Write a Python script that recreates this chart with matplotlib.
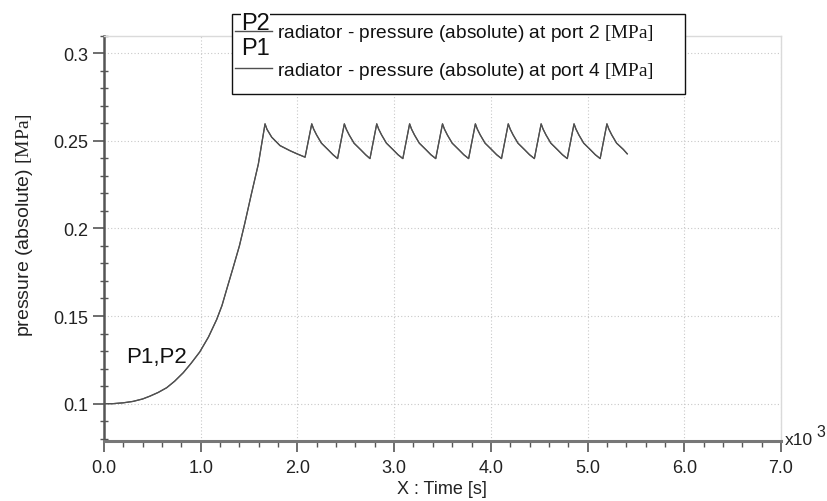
import matplotlib.pyplot as plt
from matplotlib.ticker import MultipleLocator, FuncFormatter
from matplotlib.patches import Rectangle
from matplotlib.lines import Line2D

plt.rcParams['font.family'] = ['Liberation Sans', 'DejaVu Sans']
plt.rcParams['mathtext.fontset'] = 'custom'
plt.rcParams['mathtext.rm'] = 'Liberation Serif'

# time [s]
time_s = [0, 90, 200, 300, 400, 475, 560, 648, 730, 820, 900, 990, 1080, 1165, 1220,
          1268, 1334, 1400, 1455, 1524, 1596, 1665,
          1685, 1734, 1820, 1923, 2000, 2079,
          2148, 2168, 2198, 2248, 2318, 2368, 2415,
          2485, 2505, 2535, 2585, 2655, 2705, 2750,
          2820, 2840, 2870, 2920, 2990, 3040, 3090,
          3160, 3180, 3210, 3260, 3330, 3380, 3430,
          3500, 3520, 3550, 3600, 3670, 3720, 3770,
          3840, 3860, 3890, 3940, 4010, 4060, 4110,
          4180, 4200, 4230, 4280, 4350, 4400, 4450,
          4520, 4540, 4570, 4620, 4690, 4740, 4790,
          4860, 4880, 4910, 4960, 5030, 5080, 5130,
          5200, 5220, 5250, 5300, 5370, 5410]

# radiator pressure at port 4 (P1) [MPa]
p1_mpa = [0.1000, 0.1000, 0.1005, 0.1013, 0.1027, 0.1043, 0.1064, 0.1091, 0.1128, 0.1177,
          0.1230, 0.1295, 0.1380, 0.1480, 0.1560,
          0.1651, 0.1774, 0.1900, 0.2027, 0.2196, 0.2367, 0.2596,
          0.2565, 0.2520, 0.2472, 0.2443, 0.2424, 0.2406,
          0.2596, 0.2566, 0.2533, 0.2486, 0.2448, 0.2420, 0.2398,
          0.2596, 0.2566, 0.2533, 0.2486, 0.2448, 0.2420, 0.2398,
          0.2596, 0.2566, 0.2533, 0.2486, 0.2448, 0.2420, 0.2398,
          0.2596, 0.2566, 0.2533, 0.2486, 0.2448, 0.2420, 0.2398,
          0.2596, 0.2566, 0.2533, 0.2486, 0.2448, 0.2420, 0.2398,
          0.2596, 0.2566, 0.2533, 0.2486, 0.2448, 0.2420, 0.2398,
          0.2596, 0.2566, 0.2533, 0.2486, 0.2448, 0.2420, 0.2398,
          0.2596, 0.2566, 0.2533, 0.2486, 0.2448, 0.2420, 0.2398,
          0.2596, 0.2566, 0.2533, 0.2486, 0.2448, 0.2420, 0.2398,
          0.2596, 0.2566, 0.2533, 0.2486, 0.2450, 0.2425]

# radiator pressure at port 2 (P2) [MPa] - same curve, lies on top of P1
p2_mpa = list(p1_mpa)

legend_names = ['P2', 'P1']
legend_labels = [r'radiator - pressure (absolute) at port 2 $\mathrm{[MPa]}$',
                 r'radiator - pressure (absolute) at port 4 $\mathrm{[MPa]}$']

W, H = 827, 502


def fx(px):
    return px / W


def fy(py):
    return 1 - py / H


fig = plt.figure(figsize=(W / 100, H / 100), dpi=100)
ax = fig.add_axes([fx(104), fy(441.5), (781 - 104) / W, (441.5 - 36.5) / H])

line_col = '#505050'
ax.plot(time_s, p1_mpa, color=line_col, lw=0.9)
ax.plot(time_s, p2_mpa, color=line_col, lw=0.9)

ax.set_xlim(0, 7000)
ax.set_ylim(0.079, 0.310)

ax.xaxis.set_major_locator(MultipleLocator(1000))
ax.xaxis.set_minor_locator(MultipleLocator(200))
ax.xaxis.set_major_formatter(FuncFormatter(lambda v, _: f'{v / 1000:.1f}'))
ax.yaxis.set_major_locator(MultipleLocator(0.05))
ax.yaxis.set_minor_locator(MultipleLocator(0.01))
ax.yaxis.set_major_formatter(FuncFormatter(lambda v, _: f'{v:g}'))

ax.grid(True, which='major', ls=(0, (1, 2)), color='#c8c8c8', lw=0.8)

for s in ['top', 'right']:
    ax.spines[s].set_color('#dadada')
    ax.spines[s].set_linewidth(1.0)
ax.spines['left'].set_color('#555555')
ax.spines['left'].set_linewidth(1.8)
ax.spines['bottom'].set_color('#777777')
ax.spines['bottom'].set_linewidth(2.2)

ax.tick_params(which='major', direction='out', length=8, width=1.2,
               color='#555555', labelcolor='#222222', labelsize=13)
ax.tick_params(axis='x', which='major', pad=5)
ax.tick_params(axis='y', which='major', pad=3.5)
ax.tick_params(axis='x', which='minor', direction='out', length=4, width=1.0, color='#555555')
ax.tick_params(axis='y', which='minor', direction='inout', length=6, width=1.0, color='#555555')

ax.text(227, 0.1236, 'P1,P2', fontsize=16, va='baseline', ha='left', color='#111111')

fig.text(fx(442), fy(490), 'X : Time [s]', fontsize=13, ha='center', va='center', color='#222222')
fig.text(fx(25), fy(225), r'pressure (absolute) $\mathrm{[MPa]}$', fontsize=14,
         rotation=90, ha='center', va='center', color='#222222')
fig.text(fx(785), fy(445), 'x10', fontsize=12.5, ha='left', va='baseline', color='#222222')
fig.text(fx(816), fy(437), '3', fontsize=11.5, ha='left', va='baseline', color='#222222')

# legend box drawn by hand
box = Rectangle((fx(232), fy(95)), (685 - 232) / W, 80 / H, transform=fig.transFigure,
                facecolor='white', edgecolor='#111111', lw=1.0, zorder=5)
fig.add_artist(box)
for i, (name, lab) in enumerate(zip(legend_names, legend_labels)):
    ly = [32.3, 69.3][i]
    fig.text(fx(241), fy([30, 55][i]), name, fontsize=17, ha='left', va='baseline',
             zorder=7, color='#111111',
             bbox=dict(facecolor='white', edgecolor='none', pad=0.3))
    fig.add_artist(Line2D([fx(235), fx(271.7)], [fy(ly), fy(ly)], transform=fig.transFigure,
                          color=line_col, lw=1.0, zorder=8))
    fig.text(fx(276.7), fy([38, 76][i]), lab, fontsize=13.8, ha='left', va='baseline',
             zorder=7, color='#111111')

fig.savefig('out.png', dpi=100)
